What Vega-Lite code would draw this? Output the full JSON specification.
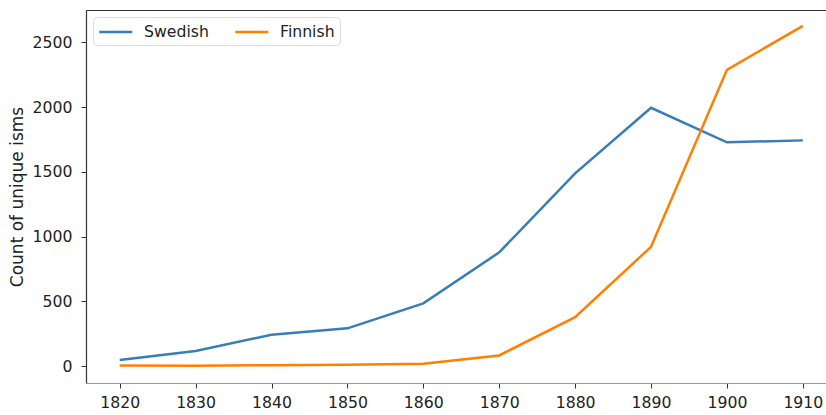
{
  "$schema": "https://vega.github.io/schema/vega-lite/v6.json",
  "autosize": {"type": "none"},
  "padding": {"left": 86, "top": 10, "right": 0, "bottom": 32},
  "width": 740,
  "height": 373,
  "background": "white",
  "config": {
    "view": {"stroke": null},
    "font": "DejaVu Sans",
    "axis": {"grid": false, "labelFont": "DejaVu Sans", "titleFont": "DejaVu Sans", "labelColor": "#222", "titleColor": "#222", "tickColor": "#333", "labelFontSize": 15.7, "titleFontSize": 17, "titleFontWeight": "normal", "tickSize": 5}
  },
  "data": {
    "values": [
      {"year": 1820, "lang": "Swedish", "count": 46},
      {"year": 1830, "lang": "Swedish", "count": 116},
      {"year": 1840, "lang": "Swedish", "count": 242},
      {"year": 1850, "lang": "Swedish", "count": 291},
      {"year": 1860, "lang": "Swedish", "count": 484},
      {"year": 1870, "lang": "Swedish", "count": 878},
      {"year": 1880, "lang": "Swedish", "count": 1488},
      {"year": 1890, "lang": "Swedish", "count": 1995},
      {"year": 1900, "lang": "Swedish", "count": 1728},
      {"year": 1910, "lang": "Swedish", "count": 1743},
      {"year": 1820, "lang": "Finnish", "count": 5},
      {"year": 1830, "lang": "Finnish", "count": 3},
      {"year": 1840, "lang": "Finnish", "count": 6},
      {"year": 1850, "lang": "Finnish", "count": 10},
      {"year": 1860, "lang": "Finnish", "count": 18},
      {"year": 1870, "lang": "Finnish", "count": 82},
      {"year": 1880, "lang": "Finnish", "count": 378},
      {"year": 1890, "lang": "Finnish", "count": 921},
      {"year": 1900, "lang": "Finnish", "count": 2288},
      {"year": 1910, "lang": "Finnish", "count": 2628}
    ]
  },
  "layer": [
    {
      "mark": {"type": "line", "strokeWidth": 2.5, "clip": true},
      "encoding": {
        "x": {
          "field": "year", "type": "quantitative",
          "scale": {"domain": [1815.56, 1913.05], "nice": false, "zero": false},
          "axis": {"title": null, "values": [1820,1830,1840,1850,1860,1870,1880,1890,1900,1910], "format": "d", "domainColor": "#999", "domainWidth": 1.2, "labelPadding": 7}
        },
        "y": {
          "field": "count", "type": "quantitative",
          "scale": {"domain": [-131, 2750], "nice": false, "zero": false},
          "axis": {"title": "Count of unique isms", "values": [0,500,1000,1500,2000,2500], "format": "d", "domainColor": "#333", "domainWidth": 1.2, "labelPadding": 9, "titlePadding": 6}
        },
        "color": {
          "field": "lang", "type": "nominal",
          "scale": {"domain": ["Swedish", "Finnish"], "range": ["#377eb8", "#ff7f00"]},
          "legend": {
            "title": null, "orient": "none", "legendX": 7, "legendY": 7,
            "direction": "horizontal", "symbolType": "M-1,0L3,0", "symbolSize": 272, "symbolStrokeWidth": 2.5,
            "labelFontSize": 15.7, "labelFont": "DejaVu Sans", "labelColor": "#222", "labelOffset": 27,
            "columnPadding": 21, "padding": 5, "fillColor": "white", "strokeColor": "#ddd", "cornerRadius": 4
          }
        }
      }
    },
    {
      "mark": {"type": "rule", "opacity": 0},
      "encoding": {
        "x": {
          "field": "year", "type": "quantitative",
          "axis": {"orient": "top", "title": null, "labels": false, "ticks": false, "domainColor": "#333", "domainWidth": 1.2, "grid": false}
        }
      }
    }
  ],
  "resolve": {"axis": {"x": "independent"}}
}
